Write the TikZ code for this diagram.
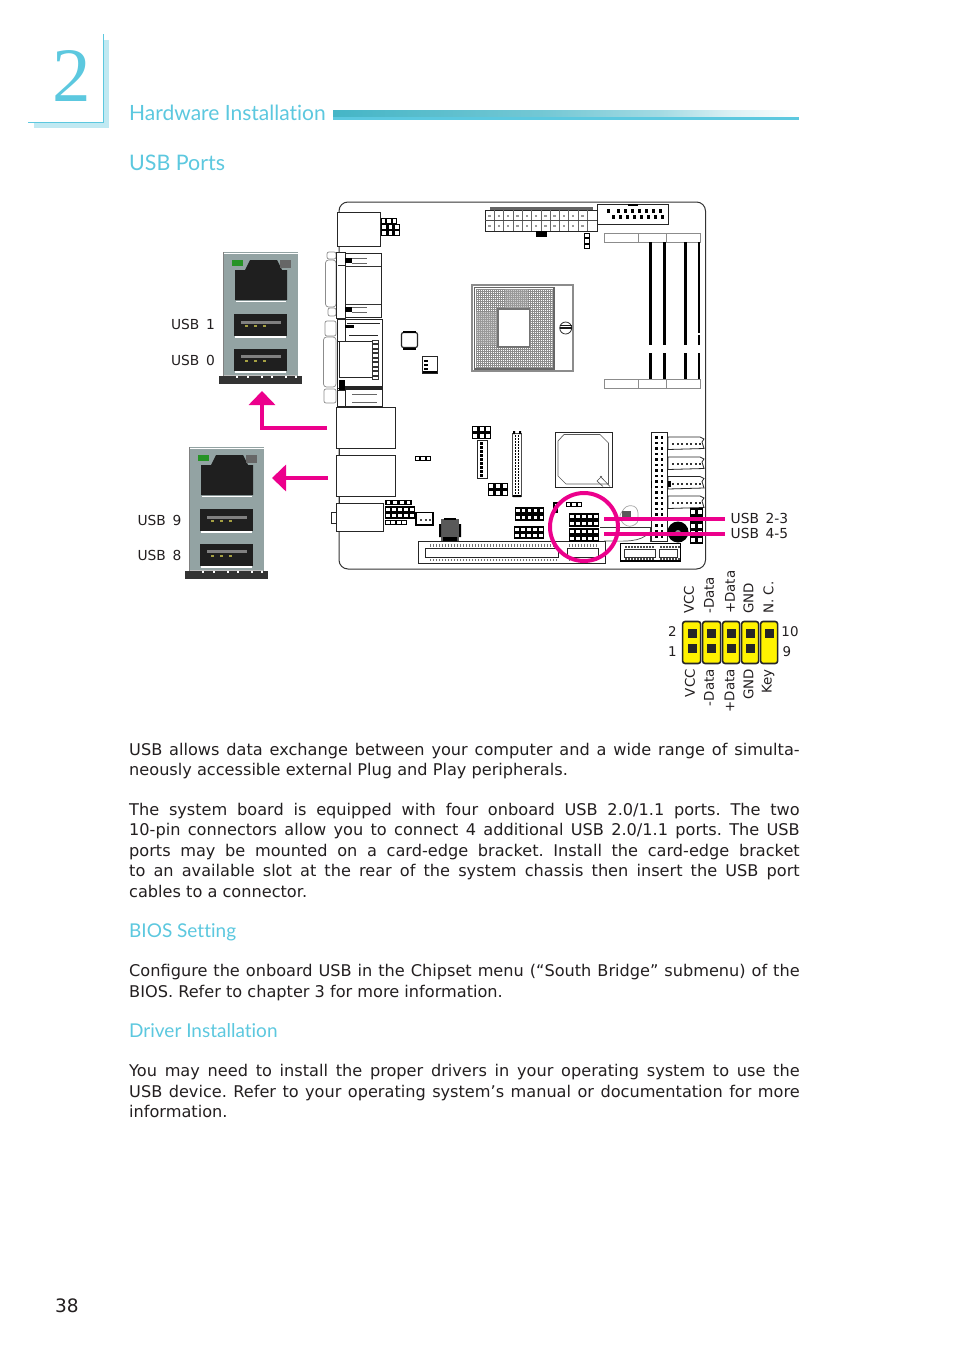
\documentclass[tikz,border=0pt]{standalone}
\usepackage{fontspec}
\setmainfont{DejaVu Sans}
\newfontfamily\headfont[Ligatures=NoCommon]{Lato}
\newfontfamily\numfont{Liberation Serif}
\usetikzlibrary{arrows.meta}
\definecolor{teal1}{HTML}{5CC8DF}
\definecolor{teal2}{HTML}{C0E9F2}
\definecolor{barteal}{HTML}{45B5C6}
\definecolor{pinkc}{HTML}{EC008C}
\definecolor{yell}{HTML}{FFF200}
\definecolor{txt}{HTML}{231F20}
\definecolor{steel}{HTML}{93A3A3}
\pgfdeclarehorizontalshading{barshade}{100bp}{
  color(0bp)=(barteal); color(25bp)=(barteal); color(47.5bp)=(barteal!75!white); color(60bp)=(barteal!50!white);
  color(67.5bp)=(barteal!20!white); color(75bp)=(white); color(100bp)=(white)}
\tikzset{
  part/.style={draw=black!85,line width=0.8pt,fill=white},
  thin part/.style={draw=black!70,line width=0.6pt,fill=white},
  lightpart/.style={draw=black!45,line width=0.7pt,fill=white},
  pinkline/.style={draw=pinkc,line width=4pt},
  pinkarrow/.style={pinkline,-{Triangle[length=14pt,width=26pt]}},
  body/.style={anchor=base west,inner sep=0pt,font=\frenchspacing\fontsize{16.15}{20}\selectfont,text=txt},
  lab/.style={inner sep=0pt,font=\fontsize{13.4}{16}\selectfont,text=txt},
  widelab/.style={inner sep=0pt,font=\fontsize{13.8}{16}\selectfont,text=txt},
  heading/.style={anchor=base west,inner sep=0pt,text=teal1},
}
\newcommand{\pingrid}[9]{%
  \fill[#8] (#1,#2) rectangle (#3,#4);
  \pgfmathsetmacro{\cw}{(#3-#1)/#5}\pgfmathsetmacro{\ch}{(#4-#2)/#6}
  \foreach \ii in {1,...,#5}{\foreach \jj in {1,...,#6}{
    \pgfmathsetmacro{\cx}{#1+(\ii-.5)*\cw}\pgfmathsetmacro{\cy}{#2+(\jj-.5)*\ch}
    \fill[#9] (\cx-#7/2,\cy-#7/2) rectangle (\cx+#7/2,\cy+#7/2);
  }}}
\newcommand{\usbport}[2]{% x shift, y shift of the stack
  \begin{scope}[shift={(#1,#2)}]
    \fill[steel] (223,252) rectangle (298,376);
    \draw[white,line width=1pt] (223,253) -- (298,253);
    \draw[black!50,line width=1pt] (223,252) -- (223,376);
    \fill[black!80] (219,376) rectangle (302,384);
    \fill[black!25] (224,374.5) rectangle (297,376);
    \foreach \xx in {236,247,261,271,285,295}{\fill[white] (\xx,376) rectangle ++(1.5,1.5);}
    \fill[black!88] (235,270) -- (245,270) -- (250,260) -- (277,260) -- (282,270) -- (287,270) -- (287,300) -- (235,300) -- cycle;
    \draw[white,line width=1pt] (236,301) -- (286,301);
    \fill[green!50!black!85] (232,260) rectangle (243,266);
    \fill[black!60] (280,260) rectangle (291,268);
    \fill[black!88] (234,314) rectangle (287,336);
    \draw[white,line width=1.2pt] (235,337) -- (286,337);
    \fill[black!50] (241,320.5) rectangle (281,324);
    \fill[black!88] (234,349) rectangle (287,371);
    \draw[white,line width=1.2pt] (235,372) -- (286,372);
    \fill[black!50] (241,354.5) rectangle (281,358);
    \foreach \yy in {324.5,359.5}\foreach \xx in {245,254,263}
      \fill[yellow!60!black] (\xx,\yy) rectangle ++(3,2.5);
  \end{scope}}
\begin{document}
\begin{tikzpicture}[x=1pt,y=-1pt]
\useasboundingbox (0,0) rectangle (954,1354);
\fill[white] (0,0) rectangle (954,1354);
% chapter mark
\fill[teal2] (34,122) rectangle (109,128);
\fill[teal2] (103,40) rectangle (109,128);
\draw[teal1,line width=1pt] (28,122) -- (103,122) -- (103,34);
\node[anchor=base,inner sep=0pt,text=teal1,font=\numfont\fontsize{77}{77}\selectfont] (chap) at (71.5,101) {2};
\node[heading,font=\headfont\fontsize{21}{24}\selectfont] (title) at (129,120.5) {Hardware Installation};
\shade[shading=barshade] (333,110) rectangle (799,117.5);
\fill[teal1] (333,117) rectangle (799,120);
\node[heading,font=\headfont\fontsize{21.4}{24}\selectfont] (h1) at (129,170.5) {USB Ports};
\node[heading,font=\headfont\fontsize{19}{22}\selectfont] (h2) at (129,937) {BIOS Setting};
\node[heading,font=\headfont\fontsize{19}{22}\selectfont] (h3) at (129,1037) {Driver Installation};
% board
\draw[black!80,line width=1pt,rounded corners=9pt] (339,202) rectangle (705.5,569);
% top left
\draw[part] (337,212) rectangle (380,246);
\pingrid{381}{224}{400}{236}{3}{2}{3.4}{black}{white}
\pingrid{381}{218}{397}{224}{3}{1}{3.4}{black}{white}
% ATX
\fill[black!60] (490,207) rectangle (593,210);
\draw[part] (485,210) rectangle (597,231);
\foreach \xx in {494.3,503.6,...,590}{
  \draw[black!60,line width=.5pt] (\xx,210) -- (\xx,231);
  \fill[black!40] (\xx-6,214.5) rectangle ++(2.4,2.4);
  \fill[black!40] (\xx-6,224.5) rectangle ++(2.4,2.4);}
\draw[black!70,line width=.6pt] (485,220.5) -- (597,220.5);
\fill[black] (536,231) rectangle (547,237);
\draw[part] (597,204) rectangle (668,224);
\fill[black] (628,204) rectangle (638,205.5);
\foreach \xx in {612,619,...,661}{\fill[black] (\xx,214.5) rectangle ++(3,4);}
\foreach \xx in {607,617,624,631,638,645,652,659}{\fill[black] (\xx,209) rectangle ++(2.5,3.5);}
\pingrid{584}{233}{590}{249}{1}{3}{3.4}{black}{white}
% DIMM
\foreach \yy/\zz in {233.5/242,379/388}{
  \draw[lightpart] (604,\yy) rectangle (638,\zz);
  \draw[lightpart] (638,\yy) rectangle (666,\zz);
  \draw[lightpart] (666,\yy) rectangle (700,\zz);}
\foreach \xx in {650.5,664,685.5}{
  \fill[black] (\xx-1.5,242) rectangle (\xx+1.5,345);
  \fill[black] (\xx-1.5,353) rectangle (\xx+1.5,379);}
\fill[black] (698,242) rectangle (700,333);
\fill[black] (698,335) rectangle (700,345);
\fill[black] (698,353) rectangle (700,379);
% CPU socket
\draw[black!45,line width=1.2pt,fill=white] (472,285) rectangle (573,371);
\draw[black!60,line width=1.2pt,fill=white] (474.5,287.5) rectangle (554,369);
\begin{scope}
  \clip (476,289) rectangle (552.5,367.5);
  \foreach \xx in {476,478,...,554}{\draw[black!45,line width=.8pt] (\xx,289) -- (\xx,368);}
  \foreach \yy in {289,291,...,369}{\draw[black!45,line width=.8pt] (476,\yy) -- (553,\yy);}
  \fill[black!35,opacity=.5] (505,289) rectangle (528,308);
  \fill[black!35,opacity=.5] (476,312) rectangle (497,345);
\end{scope}
\draw[black!55,line width=1.4pt,fill=white] (498,309) rectangle (529.5,347);
\draw[black!80,line width=.8pt] (565.7,328) circle (6);
\draw[black!90,line width=1.4pt] (559.5,328) -- (572,328);
\draw[black!90,line width=.7pt] (559.5,325.5) -- (572,325.5);
% small chips
\draw[part,line width=1.2pt,rounded corners=2pt] (401.5,332.5) rectangle (417.5,347.5);
\fill[black] (403,330.5) rectangle (416,332.5);
\fill[black] (403,347.5) rectangle (416,349.5);
\draw[part,line width=1pt] (422.5,356) rectangle (437,373);
\fill[black] (422.5,371) rectangle (437,373);
\foreach \yy in {360,364,368}{\fill[black] (424,\yy) rectangle ++(4,1.6);}
% first rear connector
\draw[lightpart,rounded corners=2pt] (327,252) rectangle (336,259);
\draw[lightpart,rounded corners=2pt] (328,308) rectangle (336,316);
\draw[lightpart,rounded corners=3pt] (325.5,260) rectangle (336,307);
\draw[part] (345,253.5) rectangle (381,317);
\draw[black!80,line width=.7pt] (345,266) -- (381,266);
\draw[black!80,line width=.7pt] (345,304) -- (381,304);
\draw[part,line width=1pt] (336,252) rectangle (345,318);
\draw[black!85,line width=1pt] (338,265) -- (345,265);
\foreach \yy in {258,307}{
  \fill[black] (345,\yy) rectangle (352,\yy+5);
  \draw[black!60,line width=.6pt] (352,\yy) -- (367,\yy) (352,\yy+5) -- (367,\yy+5);}
% second rear connector
\draw[lightpart,rounded corners=2pt] (325,321) rectangle (336,336);
\draw[lightpart,rounded corners=3pt] (323.5,337) rectangle (336,387);
\draw[lightpart,rounded corners=2pt] (324,389) rectangle (336,403);
\draw[part] (337,319) rectangle (382.5,388);
\draw[part] (337.5,388) rectangle (382.5,406.5);
\draw[part,line width=1pt] (337.5,319) rectangle (345,341);
\draw[black!85,line width=1pt] (339,341) rectangle (372.5,377);
\foreach \yy in {340,344.5,...,377}{\draw[black!80,line width=.7pt,fill=white] (372.5,\yy) rectangle (378.5,\yy+3.5);}
\draw[black!85,line width=.8pt] (349,335) -- (378,335);
\draw[black!85,line width=.8pt] (347,323) -- (380,323);
\fill[black] (345,325) rectangle (354,328);
\fill[black] (339,380) rectangle (345,392);
\draw[black!85,line width=1.2pt] (345,387) -- (382,387) (345,389) -- (382,389);
\draw[part,line width=1pt] (337.5,390) rectangle (345,406.5);
\draw[black!60,line width=.6pt] (352,394) -- (377,394) (352,402) -- (377,402);
% stacked rear boxes
\draw[black!80,line width=.8pt] (339,448) -- (339,455) (339,497) -- (339,503);
\draw[part] (336.5,407.5) rectangle (395.5,448.5);
\draw[part] (336.5,455.5) rectangle (395.5,496.5);
\draw[part] (336.5,503.5) rectangle (383.5,531.5);
\draw[part] (331.5,512) rectangle (336.5,523);
% mid-board headers
\pingrid{415}{456}{431}{461}{3}{1}{3.2}{black}{white}
\pingrid{472}{426}{491}{439}{3}{2}{4}{black}{white}
\draw[part] (477,440.5) rectangle (487,478);
\foreach \yy in {442,446,...,475}{\fill[black] (480,\yy) rectangle ++(3.4,2.6);}
\pingrid{488}{483}{508}{496}{3}{2}{4}{black}{white}
\draw[thin part] (512.5,433) rectangle (521,496);
\fill[black] (513,431) rectangle (515,434) (519,431) rectangle (521,434) (513,495) rectangle (521,497);
\foreach \yy in {435,438,...,494}{\fill[black] (514.5,\yy) rectangle ++(1.8,1.5);\fill[black] (517.5,\yy) rectangle ++(1.8,1.5);}
% chipset
\draw[part] (555,432) rectangle (612,487);
\draw[black!65,line width=.7pt] (564,434.5) -- (600,434.5) -- (608.5,443) -- (608.5,484) -- (566,484) -- (558,476) -- (558,441) -- cycle;
\draw[black!70,line width=.6pt] (600,476) -- (610,486.5) (602,476) -- (597,481) -- (603,486.5);
% SATA and side header
\draw[part] (651,432.5) rectangle (667,541.5);
\foreach \yy in {436,441.5,...,540}{\fill[black] (655,\yy) rectangle ++(2.6,2.6);\fill[black] (660.5,\yy) rectangle ++(2.6,2.6);}
\fill[black] (651,481) rectangle (652,488);
\foreach \yy in {437,457,476.5,496}{
  \draw[part] (668,\yy) -- (700,\yy) -- (704,\yy+2) -- (702,\yy+5) -- (704,\yy+11.5) -- (668,\yy+12.5) -- cycle;
  \foreach \xx in {672,676.5,...,700}{\fill[black!80] (\xx,\yy+6) rectangle ++(2,2);}}
\fill[black] (668,481) rectangle (671,487);
\pingrid{690}{508}{703}{544}{2}{5}{4}{black}{white}
\fill[black] (678,532) circle (10.5);
\fill[black!45] (678,533) circle (3);
% bottom headers
\pingrid{385}{500}{412}{505}{4}{1}{3.6}{black}{white}
\pingrid{385}{506}{415}{519}{5}{2}{3.4}{black}{white}
\pingrid{385}{520}{407}{525}{4}{1}{3.6}{black}{white}
\draw[black,line width=1.3pt,fill=white] (416,512.5) rectangle (433,525);
\foreach \xx in {420,424.5,428.5}{\fill[black!70] (\xx,519) rectangle ++(2.4,1.6);}
\fill[black!65] (441,519) rectangle (459,542);
\fill[black] (439,524) rectangle (441,537) (459,524) rectangle (461,537) (443,537) rectangle (457,542);
\fill[black] (444,518) rectangle (456,519.5);
\pingrid{515}{507}{544}{521}{5}{2}{3.2}{black}{white}
\pingrid{514}{526}{544}{539}{5}{2}{3.2}{black}{white}
\pingrid{566}{502}{582}{507}{3}{1}{3.4}{black}{white}
\fill[black] (553,502) rectangle (558,513);
\fill[white] (554.5,504) rectangle (556.5,508);
% battery
\draw[black!35,line width=.7pt,rounded corners=3pt] (619,516) -- (626,506) -- (634,505.5) -- (638,510) -- (638,523) -- (630,527) -- (623,524) -- cycle;
\fill[black!65] (622,511) rectangle (631,520);
% PCIe slot
\draw[part] (418.5,541.5) rectangle (605,563);
\draw[part] (425.5,548.5) rectangle (558.5,557);
\draw[part] (567,548.5) rectangle (598,557);
\foreach \xx in {430,433,...,556}{
  \fill[black!55] (\xx,544) rectangle ++(1.4,2.5);
  \fill[black!55] (\xx,558.5) rectangle ++(1.4,2.5);}
\foreach \xx in {569,572,...,597}{
  \fill[black!55] (\xx,544) rectangle ++(1.4,2.5);
  \fill[black!55] (\xx,558.5) rectangle ++(1.4,2.5);}
% target USB headers
\pingrid{569}{513}{599}{527}{5}{2}{3.2}{black}{white}
\pingrid{569}{528}{599}{542}{5}{2}{3.2}{black}{white}
\draw[black!80,line width=.8pt] (600,527.5) -- (650,527.5) -- (650,542);
\draw[black!70,line width=.7pt] (604,541) .. controls (625,541) and (640,543) .. (650,532);
% mini slot
\draw[black,line width=1.1pt,fill=white] (620.5,543.5) rectangle (680.5,561);
\draw[black!80,line width=.7pt,fill=white] (624,549) rectangle (655,557);
\draw[black!80,line width=.7pt,fill=white] (659,549) rectangle (677,557);
\foreach \xx in {625,628,...,654,660,663,...,678}{
  \fill[black!70] (\xx,545.5) rectangle ++(1.6,2);\fill[black!70] (\xx,557.5) rectangle ++(1.6,2);}
% port pictures
\usbport{0}{0}
\usbport{-34}{195}
\node[widelab,anchor=east] (u1) at (215,324) {USB\hspace{2.2pt} 1};
\node[widelab,anchor=east] (u0) at (215,360) {USB\hspace{2.2pt} 0};
\node[widelab,anchor=east] (u9) at (181.5,520) {USB\hspace{2.2pt} 9};
\node[widelab,anchor=east] (u8) at (181.5,555) {USB\hspace{2.2pt} 8};
% pink callouts
\coordinate (callA) at (327,428);
\coordinate (bendA) at (262,428);
\coordinate (tipA) at (262,391);
\coordinate (callB) at (328,478);
\coordinate (tipB) at (272,478);
\draw[pinkarrow] (callA) -- (bendA) -- (tipA);
\draw[pinkarrow] (callB) -- (tipB);
\coordinate (ringc) at (584,527);
\draw[pinkline] (ringc) circle (34);
\node[widelab,anchor=west] (u23) at (730.5,518.5) {USB\hspace{2.2pt} 2-3};
\node[widelab,anchor=west] (u45) at (730.5,533) {USB\hspace{2.2pt} 4-5};
\coordinate (l1) at (604,519);
\coordinate (l2) at (604,533.7);
\coordinate (l1e) at (725,519);
\coordinate (l2e) at (725,533.7);
\draw[pinkline] (l1) -- (l1e);
\draw[pinkline] (l2) -- (l2e);
% pin legend
\foreach \a/\b in {682/701,702/721,722/740,741/759,760/778}{
  \draw[black!85,fill=yell,line width=1.6pt,rounded corners=2.5pt] (\a+.6,621.5) rectangle (\b-.4,663.5);}
\foreach \xx in {692,711.5,731,750}{
  \fill[black!85] (\xx-4.5,629) rectangle (\xx+4.5,638);
  \fill[black!85] (\xx-4.5,644) rectangle (\xx+4.5,653);}
\fill[black!85] (764.5,629) rectangle (773.5,638);
\foreach \xx/\t/\n in {689/VCC/ta,709/-Data/tb,730/+Data/tc,748.5/GND/td,768.5/N. C./te}{
  \node[lab,rotate=90,anchor=west] (\n) at (\xx,614) {\t};}
\foreach \xx/\t/\n in {690/VCC/ba,709/-Data/bb,729.5/+Data/bc,748.5/GND/bd,768/Key/be}{
  \node[lab,rotate=90,anchor=east] (\n) at (\xx,669) {\t};}
\node[lab] (p2) at (672.5,631.5) {2};
\node[lab] (p1) at (672.5,651.5) {1};
\node[lab] (p10) at (790,631.5) {10};
\node[lab] (p9) at (787,651.5) {9};
% body text
\newcommand{\jl}[1]{\hbox to 670.5pt{#1}}
\node[body] (b1) at (129,755) {\jl{USB allows data exchange between your computer and a wide range of simulta-}};
\node[body] (b2) at (129,775) {neously accessible external Plug and Play peripherals.};
\node[body] (b3) at (129,815) {\jl{The system board is equipped with four onboard USB 2.0/1.1 ports. The two}};
\node[body] (b4) at (129,835) {\jl{10-pin connectors allow you to connect 4 additional USB 2.0/1.1 ports. The USB}};
\node[body] (b5) at (129,856) {\jl{ports may be mounted on a card-edge bracket. Install the card-edge bracket}};
\node[body] (b6) at (129,876) {\jl{to an available slot at the rear of the system chassis then insert the USB port}};
\node[body] (b7) at (129,897) {cables to a connector.};
\node[body] (b8) at (129,976) {\jl{Configure the onboard USB in the Chipset menu (“South Bridge” submenu) of the}};
\node[body] (b9) at (129,997) {BIOS. Refer to chapter 3 for more information.};
\node[body] (b10) at (129,1076) {\jl{You may need to install the proper drivers in your operating system to use the}};
\node[body] (b11) at (129,1097) {\jl{USB device. Refer to your operating system’s manual or documentation for more}};
\node[body] (b12) at (129,1117) {information.};
\node[body,font=\fontsize{18.5}{20}\selectfont] (pg) at (55,1312) {38};
\end{tikzpicture}
\end{document}
